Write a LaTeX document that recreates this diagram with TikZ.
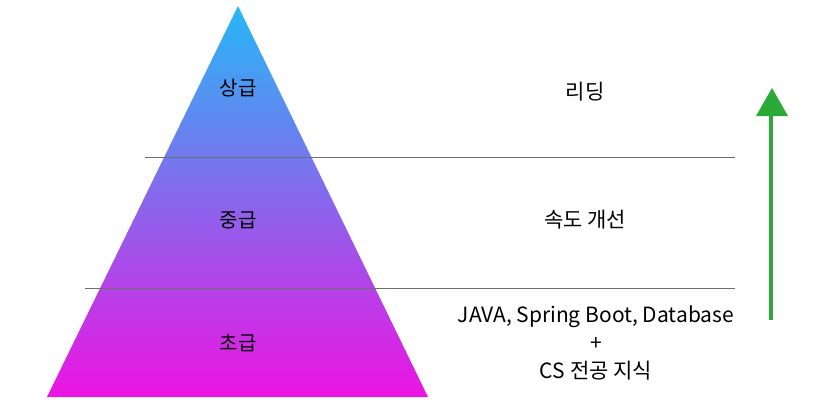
\documentclass[tikz,border=0pt]{standalone}
\usepackage{fontspec}
\setmainfont{Noto Sans CJK KR}
\usepackage{xcolor}
\usetikzlibrary{positioning}
\definecolor{pyrtop}{RGB}{38,184,246}
\definecolor{pyrmid}{RGB}{140,82,234}
\definecolor{pyrbot}{RGB}{236,20,226}
\definecolor{arrgreen}{RGB}{44,170,56}
\definecolor{divgray}{RGB}{110,110,110}
\tikzset{
  lvl/.style={font=\fontsize{20}{24}\selectfont},
  desc/.style={font=\fontsize{21}{28}\selectfont, align=center},
  divider/.style={divgray, line width=0.8pt}
}

\begin{document}
\begin{tikzpicture}[x=1pt, y=-1pt]
  \useasboundingbox (0,0) rectangle (836,405);
  %% pyramid with gradient
  \shade[top color=pyrtop, middle color=pyrmid, bottom color=pyrbot]
    (238,6) -- (428,397) -- (47,397) -- cycle;
  %% level dividers
  \draw[divider] (145,157) -- (735,157);
  \draw[divider] (85,288) -- (735,288);
  %% level names
  \foreach \ly/\lname/\nm in {88/상급/top, 220/중급/mid, 343/초급/low}{
    \node[lvl] (lv-\nm) at (238,\ly) {\lname};
  }
  %% descriptions
  \node[desc] (d-top) at (585,92) {리딩};
  \node[desc] (d-mid) at (585,220) {속도 개선};
  \node[desc] (d-low) at (596,343) {JAVA, Spring Boot, Database\\+\\CS 전공 지식};
  %% growth arrow
  \coordinate (ar-base) at (771,320);
  \coordinate (ar-neck) at (771,112);
  \draw[arrgreen, line width=3.5pt] (ar-base) -- (ar-neck);
  \fill[arrgreen] (756,116) -- (772,88) -- (788,116) -- cycle;
\end{tikzpicture}
\end{document}
